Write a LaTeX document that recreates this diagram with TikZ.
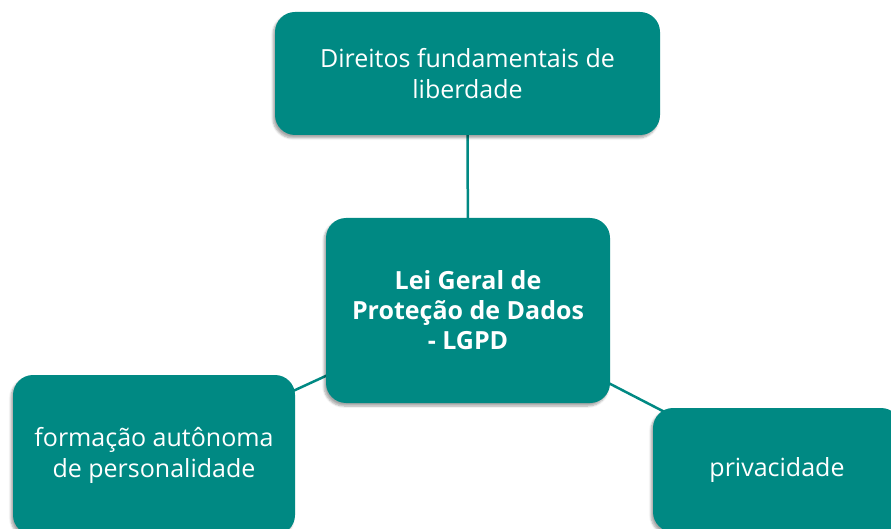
\documentclass[tikz,border=0pt]{standalone}
\usepackage{fontspec}
\setmainfont{Open Sans}
\usetikzlibrary{calc, positioning, shapes, backgrounds, shadows.blur}
\definecolor{lgpdteal}{RGB}{0,137,131}
\def\boxrad{20pt}
\tikzstyle{topic}=[rectangle, rounded corners=\boxrad, fill=lgpdteal, text=white, align=center, inner sep=0pt, font=\fontsize{25}{31}\selectfont, blur shadow={shadow xshift=-2pt, shadow yshift=-3pt, shadow blur steps=6, shadow opacity=35}]
\tikzstyle{main topic}=[topic, font=\fontsize{25}{30}\selectfont\bfseries]
\tikzstyle{link}=[draw=lgpdteal, line width=2.5pt]

\begin{document}
\begin{tikzpicture}[x=1pt, y=1pt]
		\clip (0,0) rectangle (891,528);
		\node[main topic, minimum width=284pt, minimum height=185pt] (lgpd) at (468,217.5) {Lei Geral de\\Proteção de Dados\\- LGPD};
		\node[topic, minimum width=385pt, minimum height=123pt] (dir) at (467.5,454.5) {Direitos fundamentais de\\liberdade};
		\node[topic, minimum width=282pt, minimum height=160pt] (form) at (154,73) {formação autônoma\\de personalidade};
		\node[topic, minimum width=248pt, minimum height=124pt] (priv) at (777,58) {privacidade};
		\begin{pgfonlayer}{background}
		\path[link]
		(lgpd.center) edge (dir.center)
		(lgpd.center) edge (form.center)
		(lgpd.center) edge (priv.center);
		\end{pgfonlayer}
	\end{tikzpicture}
\end{document}
